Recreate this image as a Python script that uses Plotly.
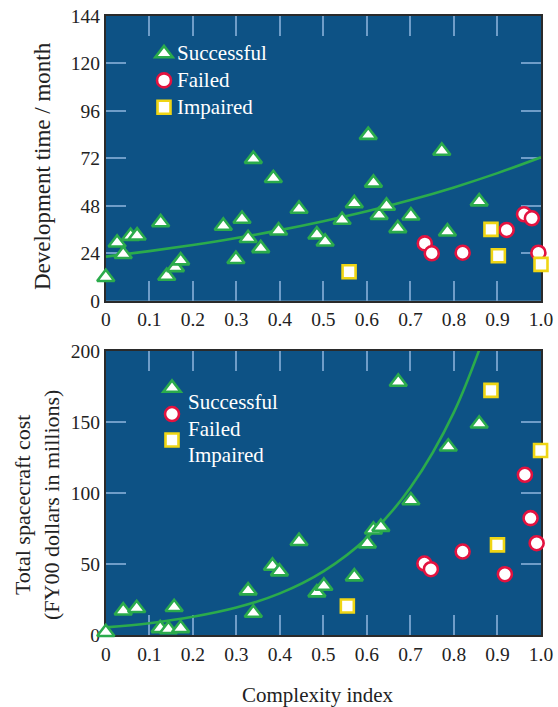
import plotly.graph_objects as go

# ---------------- data ----------------
x_ticks = [0, 0.1, 0.2, 0.3, 0.4, 0.5, 0.6, 0.7, 0.8, 0.9, 1.0]
x_tick_text = ["0", "0.1", "0.2", "0.3", "0.4", "0.5", "0.6", "0.7", "0.8", "0.9", "1.0"]
dev_ticks = [0, 24, 48, 72, 96, 120, 144]
cost_ticks = [0, 50, 100, 150, 200]
series_names = ["Successful", "Failed", "Impaired"]

succ_dev_x = [0.0, 0.026, 0.040, 0.057, 0.072, 0.126, 0.140, 0.160, 0.172, 0.270, 0.299,
              0.313, 0.327, 0.339, 0.356, 0.385, 0.397, 0.444, 0.485, 0.504, 0.543, 0.571,
              0.603, 0.615, 0.628, 0.645, 0.671, 0.701, 0.772, 0.785, 0.858]
succ_dev_y = [11.9, 29.3, 23.5, 32.7, 32.9, 39.6, 12.5, 16.9, 20.3, 37.8, 21.0,
              41.3, 31.6, 71.6, 26.5, 61.9, 35.4, 46.4, 33.4, 29.8, 40.8, 49.2,
              83.7, 59.6, 43.3, 47.9, 36.6, 43.0, 75.7, 34.9, 50.1]
fail_dev_x = [0.733, 0.749, 0.820, 0.921, 0.961, 0.979, 0.994]
fail_dev_y = [29.0, 24.0, 24.3, 35.8, 43.7, 41.7, 24.3]
imp_dev_x = [0.559, 0.885, 0.902, 1.0]
imp_dev_y = [14.7, 36.1, 22.8, 18.4]

succ_cost_x = [0.0, 0.040, 0.071, 0.125, 0.144, 0.157, 0.172, 0.327, 0.339, 0.383, 0.399,
               0.444, 0.485, 0.501, 0.571, 0.601, 0.615, 0.632, 0.672, 0.701, 0.787, 0.858]
succ_cost_y = [2.1, 17.3, 19.0, 4.9, 4.2, 19.7, 4.9, 31.4, 15.7, 48.8, 44.8,
               66.2, 30.0, 34.7, 41.3, 64.5, 74.2, 76.1, 178.2, 94.8, 132.6, 148.8]
fail_cost_x = [0.732, 0.747, 0.820, 0.917, 0.963, 0.976, 0.990]
fail_cost_y = [50.5, 46.5, 58.9, 43.0, 112.9, 82.4, 64.8]
imp_cost_x = [0.555, 0.885, 0.900, 0.999]
imp_cost_y = [20.6, 172.3, 63.6, 130.0]

dev_trend_x = [0, 0.1, 0.2, 0.3, 0.4, 0.5, 0.6, 0.7, 0.8, 0.9, 1.0]
dev_trend_y = [22.3, 25.1, 28.2, 31.7, 35.7, 40.2, 45.2, 50.9, 57.3, 64.5, 72.5]
cost_trend_x = [0, 0.1, 0.2, 0.3, 0.4, 0.5, 0.6, 0.7, 0.8, 0.9]
cost_trend_y = [5.6, 8.5, 13.0, 19.5, 29.5, 45.0, 68.5, 104.0, 157.0, 237.0]

# ---------------- style ----------------
W, H = 558, 707
BG = "#0d5285"
GREEN = "#2bab4c"
RED = "#e3123f"
YELLOW = "#efd514"
TICK = "#6f9dc8"
FRAME = "#2a2a2a"
FONT = "Liberation Serif"
TXT = "#222222"


def px_x(p):
    return p / W


def px_y(p):
    return 1 - p / H


fig = go.Figure()


def add_panel(xa, ya, sx, sy, fx, fy, ix, iy, tx, ty, legend):
    common = dict(mode="markers", xaxis=xa, yaxis=ya, cliponaxis=False, legend=legend)
    fig.add_trace(go.Scatter(x=tx, y=ty, mode="lines", xaxis=xa, yaxis=ya, showlegend=False,
                             line=dict(color=GREEN, width=2.6, shape="spline"), hoverinfo="skip"))
    fig.add_trace(go.Scatter(x=sx, y=sy, name=" ", hovertext=series_names[0],
                             marker=dict(symbol="triangle-up", size=15, color="white",
                                         line=dict(color=GREEN, width=2.6)), **common))
    fig.add_trace(go.Scatter(x=fx, y=fy, name="  ", hovertext=series_names[1],
                             marker=dict(symbol="circle", size=14, color="white",
                                         line=dict(color=RED, width=2.6)), **common))
    fig.add_trace(go.Scatter(x=ix, y=iy, name="   ", hovertext=series_names[2],
                             marker=dict(symbol="square", size=13, color="white",
                                         line=dict(color=YELLOW, width=2.6)), **common))


add_panel("x", "y", succ_dev_x, succ_dev_y, fail_dev_x, fail_dev_y, imp_dev_x, imp_dev_y,
          dev_trend_x, dev_trend_y, "legend")
add_panel("x2", "y2", succ_cost_x, succ_cost_y, fail_cost_x, fail_cost_y, imp_cost_x, imp_cost_y,
          cost_trend_x, cost_trend_y, "legend2")

axis_common = dict(
    showgrid=False, zeroline=False, showline=True, linecolor=FRAME, linewidth=2,
    mirror="ticks", ticks="inside", ticklen=20, tickwidth=1.5, tickcolor=TICK,
    tickfont=dict(family=FONT, size=19.5, color=TXT), layer="below traces",
    automargin=False, ticklabeloverflow="allow",
)

xdom = [px_x(105.8), px_x(541.0)]
fig.update_layout(
    width=W, height=H, margin=dict(l=0, r=0, t=0, b=0, pad=0),
    paper_bgcolor="white", plot_bgcolor=BG,
    xaxis=dict(domain=xdom, range=[0, 1], tickvals=x_ticks, ticktext=x_tick_text,
               anchor="y", **axis_common),
    yaxis=dict(domain=[px_y(300.8), px_y(15.8)], range=[0, 144], tickvals=dev_ticks,
               anchor="x", **axis_common),
    xaxis2=dict(domain=xdom, range=[0, 1], tickvals=x_ticks, ticktext=x_tick_text,
                anchor="y2", **axis_common),
    yaxis2=dict(domain=[px_y(635.3), px_y(351.0)], range=[0, 200], tickvals=cost_ticks,
                anchor="x2", **axis_common),
    legend=dict(x=px_x(144), y=px_y(35), xanchor="left", yanchor="top",
                bgcolor="rgba(0,0,0,0)", font=dict(family=FONT, size=18.4, color="white"),
                tracegroupgap=0, itemwidth=30, borderwidth=0),
    legend2=dict(x=px_x(152), y=px_y(370), xanchor="left", yanchor="top",
                 bgcolor="rgba(0,0,0,0)", font=dict(family=FONT, size=17.7, color="white"),
                 tracegroupgap=0, itemwidth=30, borderwidth=0),
    showlegend=True,
)


def legend_label(text, x, y):
    fig.add_annotation(text=text, x=px_x(x), y=px_y(y), xref="paper", yref="paper",
                       showarrow=False, xanchor="left", yanchor="middle",
                       font=dict(family=FONT, size=21, color="white"))


for i, name in enumerate(series_names):
    legend_label(name, 175, 53 + 27 * i)
    legend_label(name, 186, 402 + 26.5 * i)

fig.add_annotation(text="Development time / month", x=px_x(42), y=px_y(166), xref="paper",
                   yref="paper", textangle=-90, showarrow=False, xanchor="center",
                   yanchor="middle", font=dict(family=FONT, size=23, color=TXT))
fig.add_annotation(text="Total spacecraft cost<br>(FY00 dollars in millions)", x=px_x(37),
                   y=px_y(505), xref="paper", yref="paper", textangle=-90, showarrow=False,
                   xanchor="center", yanchor="middle",
                   font=dict(family=FONT, size=22, color=TXT))
fig.add_annotation(text="Complexity index", x=px_x(317.5), y=px_y(695), xref="paper",
                   yref="paper", showarrow=False, xanchor="center", yanchor="middle",
                   font=dict(family=FONT, size=21, color=TXT))

fig.write_html(
    "out.html",
    config={"displayModeBar": False},
    post_script=(
        "document.documentElement.style.margin='0';"
        "document.body.style.margin='0';"
        "document.documentElement.style.overflow='hidden';"
        "document.body.style.overflow='hidden';"
    ),
)
